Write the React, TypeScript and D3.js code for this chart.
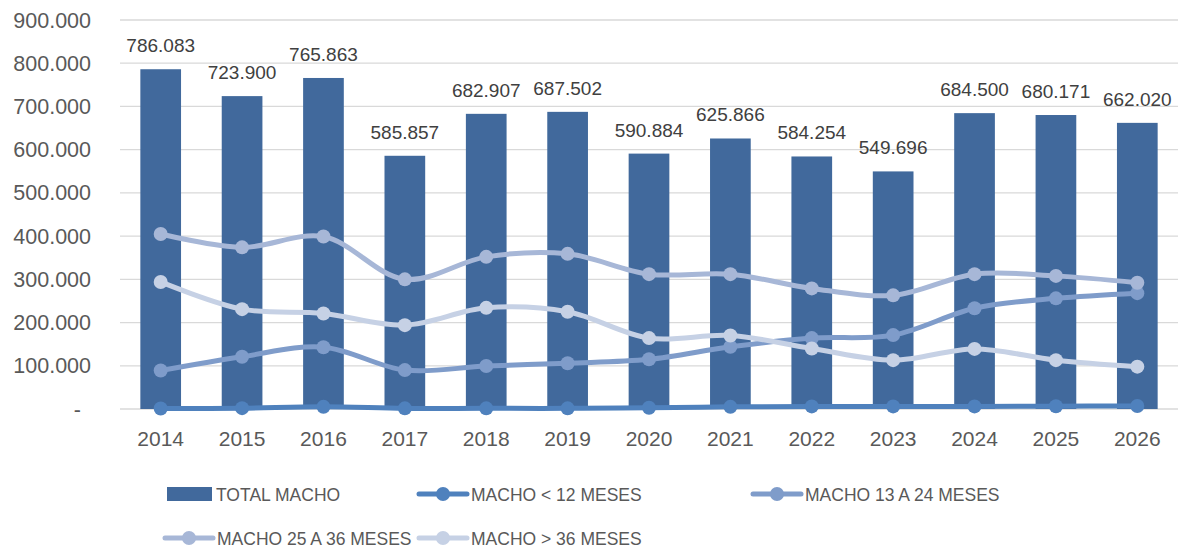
import { useEffect, useRef } from "react";
import * as d3 from "d3";

const years = ["2014", "2015", "2016", "2017", "2018", "2019", "2020", "2021", "2022", "2023", "2024", "2025", "2026"];
const totalMacho = [786083, 723900, 765863, 585857, 682907, 687502, 590884, 625866, 584254, 549696, 684500, 680171, 662020];
const machoMenos12 = [1000, 2000, 5000, 1500, 1500, 1500, 3000, 5000, 6000, 6000, 6000, 6500, 7000];
const macho13a24 = [89000, 121000, 143000, 90000, 99500, 106000, 115000, 144000, 164000, 171000, 233000, 256000, 268000];
const macho25a36 = [405000, 374000, 399000, 300000, 352000, 359000, 312000, 312000, 279000, 263000, 312000, 308000, 292000];
const machoMas36 = [294000, 231000, 221000, 194000, 234000, 225000, 164000, 170000, 140000, 113000, 139000, 113000, 98000];
const yTicks = [0, 100000, 200000, 300000, 400000, 500000, 600000, 700000, 800000, 900000];

const W = 1178;
const H = 547;
const font = "'Liberation Sans', Arial, sans-serif";
const barColor = "#41699c";

const lineSeries = [
  { name: "MACHO < 12 MESES", values: machoMenos12, color: "#4f81bd" },
  { name: "MACHO 13 A 24 MESES", values: macho13a24, color: "#7f9cca" },
  { name: "MACHO 25 A 36 MESES", values: macho25a36, color: "#a7b7d7" },
  { name: "MACHO > 36 MESES", values: machoMas36, color: "#c6d1e5" },
];

const fmt = (v: number) => d3.format(",")(v).replace(/,/g, ".");

function drawChart(svgEl: SVGSVGElement) {
  const svg = d3.select(svgEl);
  svg.selectAll("*").remove();

  const x = d3.scaleBand().domain(years).range([120, 1178]).paddingInner(0.5).paddingOuter(0.25);
  const y = d3.scaleLinear().domain([0, 900000]).range([409, 20]);

  // gridlines
  svg
    .append("g")
    .selectAll("line")
    .data(yTicks)
    .join("line")
    .attr("x1", 120)
    .attr("x2", 1178)
    .attr("y1", (d) => y(d))
    .attr("y2", (d) => y(d))
    .attr("stroke", "#d9d9d9")
    .attr("stroke-width", 1.3);

  // y labels
  svg
    .append("g")
    .selectAll("text")
    .data(yTicks)
    .join("text")
    .attr("x", (d) => (d === 0 ? 81 : 91))
    .attr("y", (d) => y(d) + 7.5)
    .attr("text-anchor", "end")
    .style("font-family", font)
    .style("font-size", "21.5px")
    .attr("fill", "#595959")
    .text((d) => (d === 0 ? "-" : fmt(d)));

  // x labels
  svg
    .append("g")
    .selectAll("text")
    .data(years)
    .join("text")
    .attr("x", (d) => x(d)! + x.bandwidth() / 2)
    .attr("y", 446)
    .attr("text-anchor", "middle")
    .style("font-family", font)
    .style("font-size", "21px")
    .attr("fill", "#595959")
    .text((d) => d);

  // bars
  svg
    .append("g")
    .selectAll("rect")
    .data(totalMacho)
    .join("rect")
    .attr("x", (_d, i) => x(years[i])!)
    .attr("width", x.bandwidth())
    .attr("y", (d) => y(d))
    .attr("height", (d) => y(0) - y(d))
    .attr("fill", barColor);

  // bar labels
  svg
    .append("g")
    .selectAll("text")
    .data(totalMacho)
    .join("text")
    .attr("x", (_d, i) => x(years[i])! + x.bandwidth() / 2)
    .attr("y", (d) => y(d) - 17)
    .attr("text-anchor", "middle")
    .style("font-family", font)
    .style("font-size", "19px")
    .attr("fill", "#404040")
    .text((d) => fmt(d));

  // lines
  const line = d3
    .line<number>()
    .x((_d, i) => x(years[i])! + x.bandwidth() / 2)
    .y((d) => y(d))
    .curve(d3.curveCatmullRom.alpha(0.5));

  lineSeries.forEach((s) => {
    const g = svg.append("g");
    g.append("path")
      .attr("d", line(s.values))
      .attr("fill", "none")
      .attr("stroke", s.color)
      .attr("stroke-width", 5)
      .attr("stroke-linecap", "round");
    g.selectAll("circle")
      .data(s.values)
      .join("circle")
      .attr("cx", (_d, i) => x(years[i])! + x.bandwidth() / 2)
      .attr("cy", (d) => y(d))
      .attr("r", 7)
      .attr("fill", s.color);
  });

  // legend
  const legend = svg.append("g").style("font-family", font).style("font-size", "17.5px");
  legend.append("rect").attr("x", 167).attr("y", 487).attr("width", 45).attr("height", 14).attr("fill", barColor);
  legend.append("text").attr("x", 216).attr("y", 500.5).attr("fill", "#595959").text("TOTAL MACHO");

  const legendPos = [
    { x: 419, y: 494 },
    { x: 753, y: 494 },
    { x: 165, y: 538 },
    { x: 419, y: 538 },
  ];
  lineSeries.forEach((s, i) => {
    const p = legendPos[i];
    legend
      .append("line")
      .attr("x1", p.x)
      .attr("x2", p.x + 48)
      .attr("y1", p.y)
      .attr("y2", p.y)
      .attr("stroke", s.color)
      .attr("stroke-width", 5)
      .attr("stroke-linecap", "round");
    legend.append("circle").attr("cx", p.x + 24).attr("cy", p.y).attr("r", 7).attr("fill", s.color);
    legend
      .append("text")
      .attr("x", p.x + 52)
      .attr("y", p.y + 6.5)
      .attr("fill", "#595959")
      .text(s.name);
  });
}

export default function App() {
  const ref = useRef<SVGSVGElement>(null);
  useEffect(() => {
    if (ref.current) drawChart(ref.current);
  }, []);
  return (
    <svg
      ref={ref}
      width={W}
      height={H}
      style={{ position: "absolute", left: 0, top: 0, background: "#fff" }}
    />
  );
}
